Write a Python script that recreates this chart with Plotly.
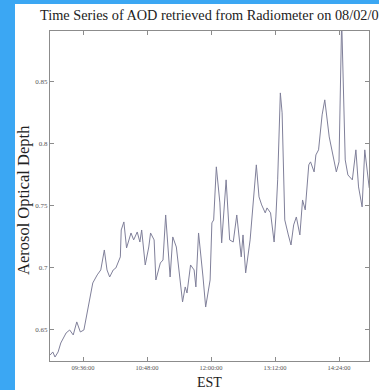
import plotly.graph_objects as go

times = [
    "08:59:00", "09:02:00", "09:04:30", "09:08:00", "09:11:00", "09:17:00", "09:21:00", "09:25:00",
    "09:29:00", "09:33:00", "09:37:00", "09:39:00", "09:44:00", "09:47:00", "09:52:00", "09:56:00",
    "10:00:00", "10:03:00", "10:06:00", "10:10:00", "10:13:00", "10:18:00", "10:19:00", "10:22:00",
    "10:25:00", "10:30:00", "10:33:00", "10:37:00", "10:40:00", "10:42:00", "10:46:00", "10:50:00",
    "10:52:00", "10:56:00", "10:58:00", "11:03:00", "11:06:00", "11:09:00", "11:14:00", "11:17:00",
    "11:21:00", "11:25:00", "11:28:00", "11:31:00", "11:33:00", "11:37:00", "11:41:00", "11:43:00",
    "11:46:00", "11:51:00", "11:54:00", "11:59:00", "12:01:00", "12:03:00", "12:06:00", "12:10:00",
    "12:12:00", "12:17:00", "12:21:00", "12:25:00", "12:29:00", "12:34:00", "12:36:00", "12:39:00",
    "12:44:00", "12:51:00", "12:54:00", "12:57:00", "13:01:00", "13:03:00", "13:07:00", "13:11:00",
    "13:13:00", "13:15:00", "13:18:00", "13:20:00", "13:23:00", "13:27:00", "13:30:00", "13:33:00",
    "13:36:00", "13:40:00", "13:43:00", "13:46:00", "13:50:00", "13:52:00", "13:56:00", "13:58:00",
    "14:01:00", "14:05:00", "14:08:00", "14:13:00", "14:16:00", "14:21:00", "14:24:00", "14:27:00",
    "14:31:00", "14:34:00", "14:39:00", "14:43:00", "14:46:00", "14:50:00", "14:53:00", "14:58:00",
]

aod = [
    0.6298, 0.6323, 0.6282, 0.6323, 0.6395, 0.6476, 0.6500, 0.6460,
    0.6565, 0.6484, 0.6500, 0.6581, 0.6766, 0.6879, 0.6944, 0.6984,
    0.7145, 0.6984, 0.6927, 0.6984, 0.7000, 0.7089, 0.7306, 0.7371,
    0.7161, 0.7282, 0.7226, 0.7290, 0.7209, 0.7306, 0.7024, 0.7169,
    0.7282, 0.7226, 0.6903, 0.7040, 0.7064, 0.7427, 0.6927, 0.7250,
    0.7169, 0.6903, 0.6726, 0.6847, 0.6798, 0.7024, 0.6984, 0.6847,
    0.7282, 0.6927, 0.6685, 0.6903, 0.7363, 0.7387, 0.7815, 0.7524,
    0.7202, 0.7710, 0.7226, 0.7209, 0.7427, 0.7089, 0.7266, 0.6960,
    0.7226, 0.7831, 0.7573, 0.7508, 0.7444, 0.7484, 0.7444, 0.7209,
    0.7411, 0.7710, 0.8411, 0.8250, 0.7387, 0.7266, 0.7185, 0.7347,
    0.7411, 0.7266, 0.7548, 0.7468, 0.7831, 0.7855, 0.7774, 0.7911,
    0.7952, 0.8234, 0.8355, 0.8056, 0.7952, 0.7774, 0.7855, 0.9000,
    0.7871, 0.7750, 0.7710, 0.7952, 0.7653, 0.7492, 0.7952, 0.7645,
]

date = "2007-08-02"
tick_times = ["09:36:00", "10:48:00", "12:00:00", "13:12:00", "14:24:00"]
y_ticks = [0.65, 0.7, 0.75, 0.8, 0.85]
y_ticktext = ["0.65", "0.7", "0.75", "0.8", "0.85"]

title_text = "Time Series of AOD retrieved from Radiometer on 08/02/07"
x_title = "EST"
y_title = "Aerosol Optical Depth"

W, H = 379, 390
ML, MR, MT, MB = 50, 10, 31, 29
pw, ph = W - ML - MR, H - MT - MB

serif = "Liberation Serif, Times New Roman, serif"
axis_col = "#8c8c8c"

fig = go.Figure()
fig.add_trace(go.Scatter(
    x=[f"{date} {t}" for t in times], y=aod, mode="lines",
    line=dict(color="#80809a", width=1), showlegend=False,
))

def px_x(p):
    return (p - ML) / pw

def px_y(p):
    return (H - MB - p) / ph

fig.update_layout(
    width=W, height=H,
    margin=dict(l=ML, r=MR, t=MT, b=MB),
    paper_bgcolor="#3ba7f3",
    plot_bgcolor="white",
    title=dict(text=title_text, x=40 / W, xanchor="left", xref="container",
               y=1 - 15 / H, yanchor="middle", yref="container",
               font=dict(family=serif, size=14.3, color="#222")),
    shapes=[dict(type="rect", xref="paper", yref="paper", layer="below",
                 x0=px_x(15), x1=px_x(W + 5), y0=px_y(H + 5), y1=px_y(4),
                 fillcolor="white", line=dict(width=0))],
    annotations=[
        dict(text=y_title, xref="paper", yref="paper", x=px_x(23), y=px_y(200),
             showarrow=False, textangle=-90, xanchor="center", yanchor="middle",
             font=dict(family=serif, size=16.5, color="#222")),
        dict(text=x_title, xref="paper", yref="paper", x=px_x(210), y=px_y(382),
             showarrow=False, xanchor="center", yanchor="middle",
             font=dict(family=serif, size=14, color="#222")),
    ],
)

fig.update_xaxes(
    type="date",
    range=[f"{date} 08:58:52", f"{date} 14:57:45"],
    tickvals=[f"{date} {t}" for t in tick_times], ticktext=tick_times,
    ticks="inside", ticklen=4, tickcolor=axis_col, mirror="allticks",
    showline=True, linecolor=axis_col, linewidth=1, showgrid=False, zeroline=False,
    tickfont=dict(family=serif, size=6.5, color="#555"),
)
fig.update_yaxes(
    range=[0.625, 0.891],
    tickvals=y_ticks, ticktext=y_ticktext,
    ticks="inside", ticklen=4, tickcolor=axis_col, mirror="allticks",
    showline=True, linecolor=axis_col, linewidth=1, showgrid=False, zeroline=False,
    tickfont=dict(family=serif, size=7, color="#555"),
)

fig.write_html("out.html")
